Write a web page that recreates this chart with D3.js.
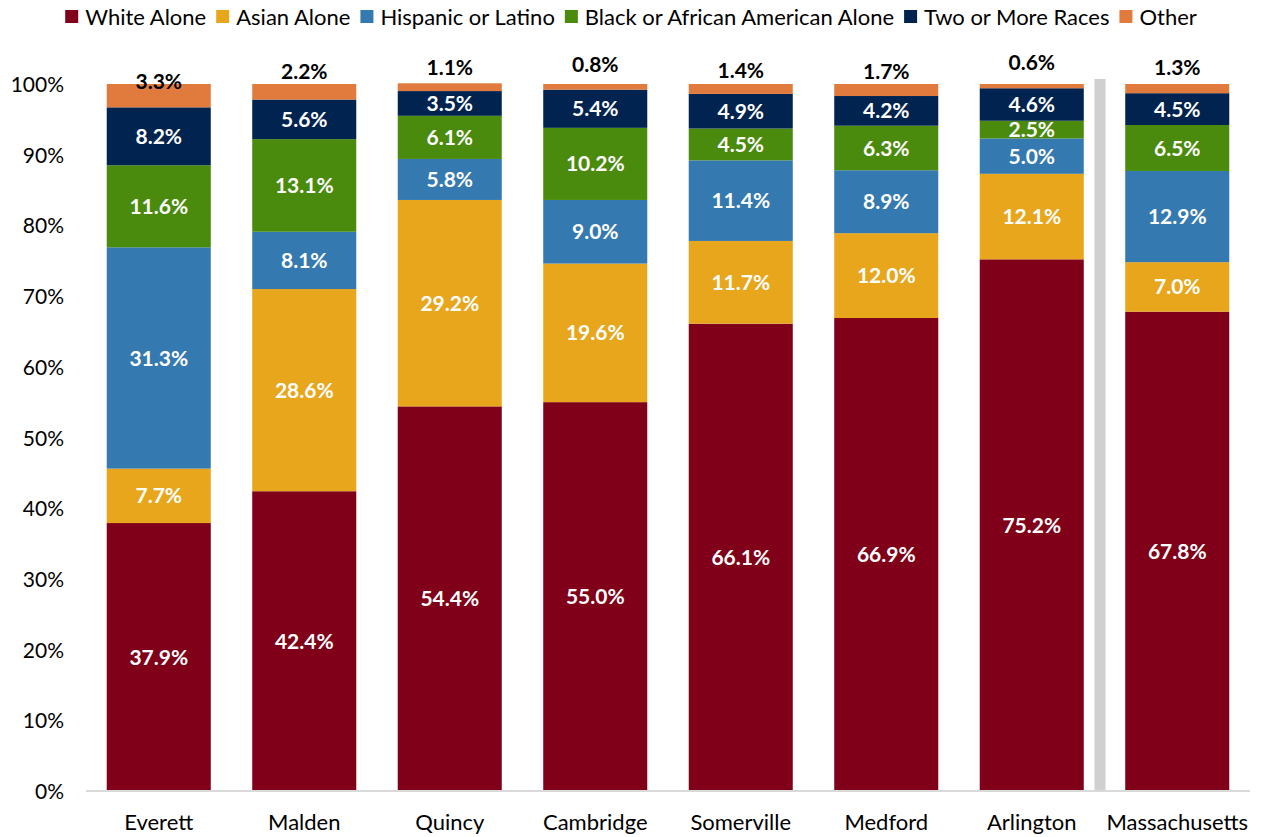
<!DOCTYPE html>
<html>
<head>
<meta charset="utf-8">
<script src="https://cdn.jsdelivr.net/npm/d3@7"></script>
<style>
  html, body { margin: 0; padding: 0; background: #fff; }
  svg { display: block; font-family: Lato, "Open Sans", sans-serif; }
</style>
</head>
<body>
<svg id="chart" width="1261" height="837"></svg>
<script>
// Race / ethnicity shares (%) by community
const categories = ["Everett", "Malden", "Quincy", "Cambridge", "Somerville", "Medford", "Arlington", "Massachusetts"];
const seriesNames = ["White Alone", "Asian Alone", "Hispanic or Latino", "Black or African American Alone", "Two or More Races", "Other"];
const whiteAlone = [37.9, 42.4, 54.4, 55.0, 66.1, 66.9, 75.2, 67.8];
const asianAlone = [7.7, 28.6, 29.2, 19.6, 11.7, 12.0, 12.1, 7.0];
const hispanicLatino = [31.3, 8.1, 5.8, 9.0, 11.4, 8.9, 5.0, 12.9];
const blackAlone = [11.6, 13.1, 6.1, 10.2, 4.5, 6.3, 2.5, 6.5];
const twoOrMore = [8.2, 5.6, 3.5, 5.4, 4.9, 4.2, 4.6, 4.5];
const other = [3.3, 2.2, 1.1, 0.8, 1.4, 1.7, 0.6, 1.3];
const yTicks = [0, 10, 20, 30, 40, 50, 60, 70, 80, 90, 100];

// Styling
const colors = ["#7f0018", "#e8a61d", "#3479b0", "#4a8b0d", "#002350", "#e07b3d"];
// vertical nudge (px) of the small "Other" labels above each column
const otherLabelDy = [-14, -20, -20, -22, -19, -19, -24, -21];

const seriesValues = [whiteAlone, asianAlone, hispanicLatino, blackAlone, twoOrMore, other];
const rows = categories.map((c, i) => {
  const r = { category: c };
  seriesNames.forEach((s, k) => { r[s] = seriesValues[k][i]; });
  return r;
});
const stacked = d3.stack().keys(seriesNames)(rows);

const svg = d3.select("#chart");
const plot = { left: 86, right: 1250, top: 84, bottom: 791 };

const x = d3.scaleBand().domain(categories)
  .range([plot.left, plot.right]).paddingInner(0.285).paddingOuter(0.1425);
const y = d3.scaleLinear().domain([0, 100]).range([plot.bottom, plot.top]);

// separator between the communities and the statewide column
const sepX = x("Massachusetts") - x.step() * x.paddingInner() / 2 - 10;
svg.append("rect")
  .attr("x", sepX).attr("y", y(100) - 5)
  .attr("width", 11).attr("height", y(0) - y(100) + 5)
  .attr("fill", "#d0d0d0");

// y axis labels
const yAxis = d3.axisLeft(y).tickValues(yTicks).tickFormat(d => d + "%").tickSize(0).tickPadding(0);
const yg = svg.append("g").attr("transform", `translate(64,0)`).call(yAxis);
yg.select(".domain").remove();
yg.selectAll("text").attr("font-size", 21).attr("fill", "#000")
  .attr("font-family", "Lato, sans-serif").attr("dy", "0.36em");

// stacked bars
const layers = svg.append("g").selectAll("g").data(stacked).join("g")
  .attr("fill", (d, i) => colors[i]);
layers.selectAll("rect").data(d => d).join("rect")
  .attr("x", d => x(d.data.category))
  .attr("y", d => y(d[1]))
  .attr("width", x.bandwidth())
  .attr("height", d => y(d[0]) - y(d[1]));

// baseline
const xAxis = d3.axisBottom(x).tickSize(0).tickPadding(0);
const xg = svg.append("g").attr("transform", `translate(0,${plot.bottom})`).call(xAxis);
xg.select(".domain").attr("stroke", "#d9d9d9").attr("stroke-width", 2)
  .attr("d", `M${plot.left},0H${plot.right}`);
xg.selectAll("text").attr("font-size", 22).attr("fill", "#000")
  .attr("font-family", "Lato, sans-serif").attr("y", 31).attr("dy", "0.36em");

// value labels inside the segments
const labelG = svg.append("g").attr("font-weight", "bold").attr("font-size", 21)
  .attr("text-anchor", "middle");
stacked.forEach((layer, k) => {
  if (k === seriesNames.length - 1) return;
  labelG.selectAll(null).data(layer).join("text")
    .attr("x", d => x(d.data.category) + x.bandwidth() / 2)
    .attr("y", d => y((d[0] + d[1]) / 2))
    .attr("dy", "0.36em")
    .attr("fill", "#fff")
    .text(d => d.data[layer.key].toFixed(1) + "%");
});
// "Other" labels sit above the columns
const otherLayer = stacked[stacked.length - 1];
labelG.selectAll(null).data(otherLayer).join("text")
  .attr("x", d => x(d.data.category) + x.bandwidth() / 2)
  .attr("y", (d, i) => y((d[0] + d[1]) / 2) + otherLabelDy[i])
  .attr("dy", "0.36em")
  .attr("fill", "#000")
  .text(d => d.data["Other"].toFixed(1) + "%");

// legend, centred across the top
const legend = svg.append("g").attr("font-size", 22);
const items = legend.selectAll("g").data(seriesNames).join("g");
items.append("rect").attr("width", 13).attr("height", 13).attr("y", 10)
  .attr("fill", (d, i) => colors[i]);
items.append("text").attr("x", 20).attr("y", 17).attr("dy", "0.36em")
  .attr("fill", "#000").text(d => d);
let cursor = 0;
items.each(function () {
  const w = 20 + this.querySelector("text").getComputedTextLength();
  d3.select(this).attr("transform", `translate(${cursor},0)`);
  cursor += w + 10;
});
const total = cursor - 10;
legend.attr("transform", `translate(${631 - total / 2},0)`);
</script>
</body>
</html>
